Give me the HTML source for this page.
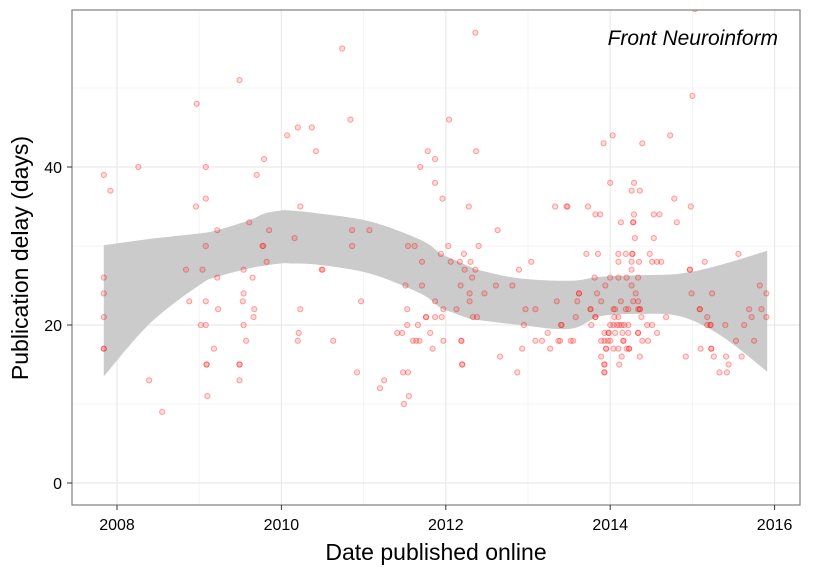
<!DOCTYPE html>
<html><head><meta charset="utf-8"><style>
body{margin:0;background:#fff;font-family:"Liberation Sans",sans-serif}
</style></head><body>
<svg id="chart" width="825" height="570" xmlns="http://www.w3.org/2000/svg" font-family="Liberation Sans, sans-serif">
<rect width="825" height="570" fill="#fff"/>
<defs><clipPath id="panel-clip"><rect x="72" y="10" width="728" height="495"/></clipPath></defs>
<g id="grid"></g>
<g id="ribbon"></g>
<g id="points" clip-path="url(#panel-clip)"></g>
<rect x="72" y="10" width="728" height="495" fill="none" stroke="#7f7f7f" stroke-width="1.2"/>
<g id="axes"></g>
<text x="778" y="45" font-size="21" font-style="italic" text-anchor="end" fill="#000">Front Neuroinform</text>
<text x="436" y="560" font-size="23" text-anchor="middle" fill="#000">Date published online</text>
<text transform="translate(28,258) rotate(-90)" font-size="23" text-anchor="middle" fill="#000">Publication delay (days)</text>
</svg>
<script>
const xTicks=[2008,2010,2012,2014,2016];
const yTicks=[0,20,40];
const xMinor=[2009,2011,2013,2015];
const yMinor=[10,30,50];
const ptX=[2007.84,2007.92,2008.26,2009.49,2008.97,2009.08,2009.08,2008.96,2009.22,2009.61,2009.85,2009.79,2009.70,2010.07,2010.2,2010.37,2010.42,2010.23,2010.16,2009.08,2009.77,2009.78,2009.82,2008.84,2009.04,2009.54,2009.22,2009.65,2007.84,2007.84,2009.54,2008.88,2009.08,2009.53,2009.23,2009.67,2010.23,2007.84,2009.66,2009.02,2009.08,2009.54,2010.21,2010.2,2009.57,2007.84,2007.84,2009.18,2009.09,2009.09,2009.49,2009.49,2008.39,2009.49,2009.1,2008.55,2010.49,
2010.74,2012.36,2010.84,2012.04,2012.37,2011.78,2011.87,2011.69,2011.87,2011.96,2012.28,2013.33,2013.47,2012.63,2010.86,2011.07,2010.86,2011.54,2011.62,2012.03,2012.4,2011.94,2012.22,2011.71,2012.06,2012.17,2012.3,2013.04,2012.23,2012.36,2012.89,2010.5,2012.32,2011.51,2011.71,2012.18,2012.61,2012.81,2012.29,2012.47,2010.97,2011.87,2012.29,2013.35,2011.53,2011.97,2012.13,2012.97,2013.09,2011.76,2011.76,2011.87,2011.95,2012.33,2012.38,2011.53,2011.66,2012.95,2013.4,2011.41,2011.47,2011.81,2013.24,2010.63,2011.6,2011.64,2011.68,2011.97,2012.19,2012.19,2013.09,2013.17,2013.37,2011.84,2012.66,2012.93,2013.27,2012.2,2012.2,2010.92,2011.48,2011.54,2012.87,2011.25,2011.2,2011.55,2011.49,
2015.03,2015.0,2013.92,2014.03,2014.39,2014.73,2014.0,2014.29,2014.26,2014.36,2014.78,2013.48,2013.73,2014.98,2013.82,2013.88,2014.29,2014.53,2014.6,2014.13,2014.28,2014.28,2014.81,2014.3,2014.53,2013.71,2013.85,2014.1,2014.19,2014.27,2014.27,2014.48,2015.56,2014.1,2014.26,2014.35,2014.51,2014.57,2014.62,2015.15,2014.26,2014.97,2014.97,2013.81,2014.0,2014.1,2014.2,2014.34,2013.94,2014.26,2015.82,2013.62,2013.62,2013.84,2014.31,2014.99,2015.24,2015.9,2013.6,2013.89,2014.13,2014.28,2014.34,2013.76,2013.76,2014.04,2014.06,2014.19,2014.22,2014.34,2014.36,2014.36,2015.09,2015.09,2015.69,2015.84,2013.58,2013.82,2013.82,2014.05,2014.1,2014.38,2014.68,2015.18,2015.72,2015.9,2013.41,2013.77,2014.0,2014.04,2014.08,2014.11,2014.14,2014.17,2014.22,2014.45,2014.51,2015.18,2015.22,2015.22,2015.4,2015.63,2013.93,2013.98,2013.98,2014.06,2014.15,2014.22,2014.34,2014.34,2014.57,2013.39,2013.52,2013.55,2013.89,2013.93,2013.97,2014.0,2014.16,2014.16,2014.39,2014.46,2015.53,2015.75,2013.95,2013.95,2014.04,2014.1,2014.2,2014.23,2014.23,2015.1,2015.23,2015.23,2013.89,2014.14,2014.36,2014.92,2015.26,2015.41,2015.6,2013.93,2013.93,2014.11,2015.44,2013.93,2013.93,2015.33,2015.42];
const ptY=[39,37,40,51,48,40,36,35,32,33,32,41,39,44,45,45,42,35,31,30,30,30,28,27,27,27,26,26,26,24,24,23,23,23,22,22,22,21,21,20,20,20,19,18,18,17,17,17,15,15,15,15,13,13,11,9,27,
55,57,46,46,42,42,41,40,38,36,35,35,35,32,32,32,30,30,30,30,30,29,29,28,28,28,28,28,27,27,27,27,26,25,25,25,25,25,24,24,23,23,23,23,22,22,22,22,22,21,21,21,21,21,21,20,20,20,20,19,19,19,19,18,18,18,18,18,18,18,18,18,18,17,16,17,17,15,15,14,14,14,14,13,12,11,10,
60,49,43,44,43,44,38,38,37,37,36,35,35,35,34,34,34,34,34,33,33,33,33,31,31,29,29,29,29,29,29,29,29,28,28,28,28,28,28,28,27,27,27,26,26,26,26,26,25,25,25,24,24,24,24,24,24,24,23,23,23,23,23,22,22,22,22,22,22,22,22,22,22,22,22,22,21,21,21,21,21,21,21,21,21,21,20,20,20,20,20,20,20,20,20,20,20,20,20,20,20,20,19,19,19,19,19,19,19,19,19,18,18,18,18,18,18,18,18,18,18,18,18,18,17,17,17,17,17,17,17,17,17,17,16,16,16,16,16,16,16,15,15,15,15,14,14,14,14];
const bandX=[2007.84,2008.40,2009.01,2009.22,2009.62,2009.79,2010.0,2010.1,2010.47,2011.08,2011.69,2011.93,2012.05,2012.29,2012.42,2012.9,2013.51,2013.88,2014.36,2014.85,2015.34,2015.91];
const bandHi=[30.1,30.9,31.6,32.0,33.3,34.1,34.5,34.5,34.1,33.1,30.8,29.1,28.5,27.4,26.9,25.9,25.6,26.1,26.3,26.5,27.6,29.4];
const bandLo=[13.5,20.2,25.1,26.1,27.2,27.5,27.8,27.8,27.6,26.5,24.0,22.2,21.7,20.8,20.6,20.0,19.5,21.1,21.4,21.1,18.7,14.1];

const NS="http://www.w3.org/2000/svg";
const X=v=>117+(v-2008)*82.2;
const Y=v=>483-v*7.9;
function mk(tag,attrs,parent){const e=document.createElementNS(NS,tag);for(const k in attrs)e.setAttribute(k,attrs[k]);parent.appendChild(e);return e;}
function smooth(pts){ // catmull-rom sampled
  const out=[];
  for(let i=0;i<pts.length-1;i++){
    const p0=pts[Math.max(0,i-1)],p1=pts[i],p2=pts[i+1],p3=pts[Math.min(pts.length-1,i+2)];
    for(let s=0;s<8;s++){const t=s/8,t2=t*t,t3=t2*t;
      const f=(a,b,c,d)=>0.5*((2*b)+(-a+c)*t+(2*a-5*b+4*c-d)*t2+(-a+3*b-3*c+d)*t3);
      out.push([f(p0[0],p1[0],p2[0],p3[0]),f(p0[1],p1[1],p2[1],p3[1])]);}
  }
  out.push(pts[pts.length-1]);return out;
}
const grid=document.getElementById('grid');
xMinor.forEach(v=>{const l=mk('line',{x1:X(v),x2:X(v),y1:10,y2:505,stroke:'#f4f4f4','stroke-width':1},grid);

});
yMinor.forEach(v=>{const l=mk('line',{x1:72,x2:800,y1:Y(v),y2:Y(v),stroke:'#f4f4f4','stroke-width':1},grid);

});
xTicks.forEach(v=>{const l=mk('line',{x1:X(v),x2:X(v),y1:10,y2:505,stroke:'#ebebeb','stroke-width':1.3},grid);

});
yTicks.forEach(v=>{const l=mk('line',{x1:72,x2:800,y1:Y(v),y2:Y(v),stroke:'#ebebeb','stroke-width':1.3},grid);

});
// ribbon
const hi=smooth(bandX.map((v,i)=>[X(v),Y(bandHi[i])]));
const lo=smooth(bandX.map((v,i)=>[X(v),Y(bandLo[i])])).reverse();
let d='M'+hi.map(p=>p[0].toFixed(1)+','+p[1].toFixed(1)).join('L')+'L'+lo.map(p=>p[0].toFixed(1)+','+p[1].toFixed(1)).join('L')+'Z';
const rb=mk('path',{d:d,fill:'#cbcbcb'},document.getElementById('ribbon'));


// points
const pg=document.getElementById('points');
ptX.forEach((v,i)=>{const c=mk('circle',{cx:X(v).toFixed(1),cy:Y(ptY[i]).toFixed(1),r:2.6,fill:'#ff0000','fill-opacity':0.14,stroke:'#ff0000','stroke-opacity':0.35,'stroke-width':1},pg);

});
// axes
const ax=document.getElementById('axes');
xTicks.forEach(v=>{const t=mk('line',{x1:X(v),x2:X(v),y1:505,y2:510,stroke:'#333','stroke-width':1},ax);


const tx=mk('text',{x:X(v),y:530,'font-size':16,'text-anchor':'middle',fill:'#000'},ax);tx.textContent=v;

});
yTicks.forEach(v=>{const t=mk('line',{x1:67,x2:72,y1:Y(v),y2:Y(v),stroke:'#333','stroke-width':1},ax);


const tx=mk('text',{x:62,y:Y(v)+6,'font-size':16,'text-anchor':'end',fill:'#000'},ax);tx.textContent=v;

});
</script>
</body></html>
